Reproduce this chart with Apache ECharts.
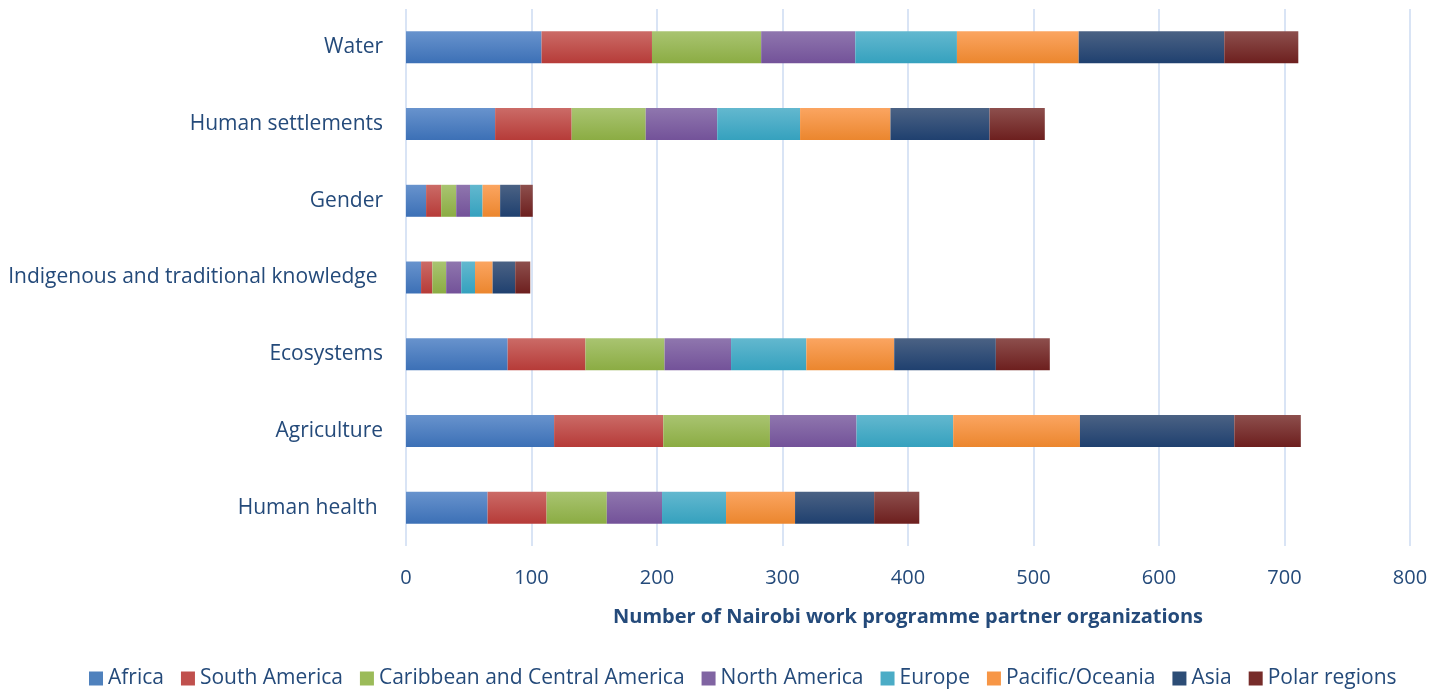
<!DOCTYPE html>
<html>
	<head>
		<meta charset="UTF-8">
		<title>Nairobi work programme partner organizations</title>
		<script src="https://cdn.jsdelivr.net/npm/echarts@6/dist/echarts.min.js"></script>
		<style>
			html, body { margin: 0; padding: 0; background: #fff; }
		</style>
	</head>
	<body>
		<div id="main" style="width: 1447px;height: 692px;"></div>
		<script type="text/javascript">
			// bottom to top, like the chart
			var categories = ['Human health ', 'Agriculture', 'Ecosystems', 'Indigenous and traditional knowledge ', 'Gender', 'Human settlements', 'Water'];
			var africa = [65, 118, 81, 12, 16, 71, 108];
			var southAmerica = [47, 87, 62, 9, 12, 61, 88];
			var caribbean = [48, 85, 63, 11, 12, 59, 87];
			var northAmerica = [44, 69, 53, 12, 11, 57, 75];
			var europe = [51, 77, 60, 11, 10, 66, 81];
			var pacific = [55, 101, 70, 14, 14, 72, 97];
			var asia = [63, 123, 81, 18, 16, 79, 116];
			var polar = [36, 53, 43, 12, 10, 44, 59];
			var xTicks = [0, 100, 200, 300, 400, 500, 600, 700, 800];

			var textColor = '#244a7a';
			var font = '"Open Sans", "Noto Sans", sans-serif';

			function grad(top, bottom) {
				return new echarts.graphic.LinearGradient(0, 0, 0, 1, [
					{ offset: 0, color: top },
					{ offset: 1, color: bottom }
				]);
			}

			var regions = [
				{ name: 'Africa', data: africa, top: '#6893cd', bottom: '#3c70b6', flat: '#4f81bd' },
				{ name: 'South America', data: southAmerica, top: '#cb6b67', bottom: '#b63b38', flat: '#c0504d' },
				{ name: 'Caribbean and Central America', data: caribbean, top: '#a9c471', bottom: '#8bac43', flat: '#9bbb59' },
				{ name: 'North America', data: northAmerica, top: '#8f76ae', bottom: '#735299', flat: '#8064a2' },
				{ name: 'Europe', data: europe, top: '#63b8cf', bottom: '#35a1be', flat: '#4bacc6' },
				{ name: 'Pacific/Oceania', data: pacific, top: '#fba561', bottom: '#eb862e', flat: '#f79646' },
				{ name: 'Asia', data: asia, top: '#4b6284', bottom: '#1f406f', flat: '#2c4d76' },
				{ name: 'Polar regions', data: polar, top: '#8d4f4d', bottom: '#6d1f1e', flat: '#772c2a' }
			];

			var series = regions.map(function(r) {
				return {
					name: r.name,
					type: 'bar',
					stack: 'total',
					barWidth: 32,
					data: r.data,
					itemStyle: { color: grad(r.top, r.bottom) },
					emphasis: { disabled: true }
				};
			});

			var myChart = echarts.init(document.getElementById('main'));
			myChart.setOption({
				backgroundColor: '#fff',
				animation: false,
				color: regions.map(function(r) { return r.flat; }),
				textStyle: { fontFamily: font, color: textColor },
				grid: { left: 406, right: 37, top: 9, bottom: 146, containLabel: false },
				legend: {
					bottom: -2,
					left: 84,
					itemWidth: 14,
					itemHeight: 14,
					itemGap: 17,
					icon: 'rect',
					textStyle: { fontSize: 21, color: textColor, fontFamily: font },
					data: regions.map(function(r) { return { name: r.name, itemStyle: { color: r.flat } }; })
				},
				xAxis: {
					type: 'value',
					min: 0,
					max: 800,
					interval: 100,
					name: 'Number of Nairobi work programme partner organizations',
					nameLocation: 'middle',
					nameGap: 61,
					nameTextStyle: { fontSize: 20, fontWeight: 'bold', color: textColor, fontFamily: font },
					axisLine: { show: false },
					axisTick: { show: false },
					axisLabel: {
						fontSize: 20,
						color: textColor,
						margin: 22,
						formatter: function(v) { return xTicks.indexOf(v) >= 0 ? String(v) : ''; }
					},
					splitLine: { lineStyle: { color: '#d9e4f5', width: 2 } }
				},
				yAxis: {
					type: 'category',
					data: categories,
					axisLine: { show: false },
					axisTick: { show: false },
					axisLabel: { fontSize: 21, color: textColor, margin: 23 }
				},
				series: series
			});
		</script>
	</body>
</html>
